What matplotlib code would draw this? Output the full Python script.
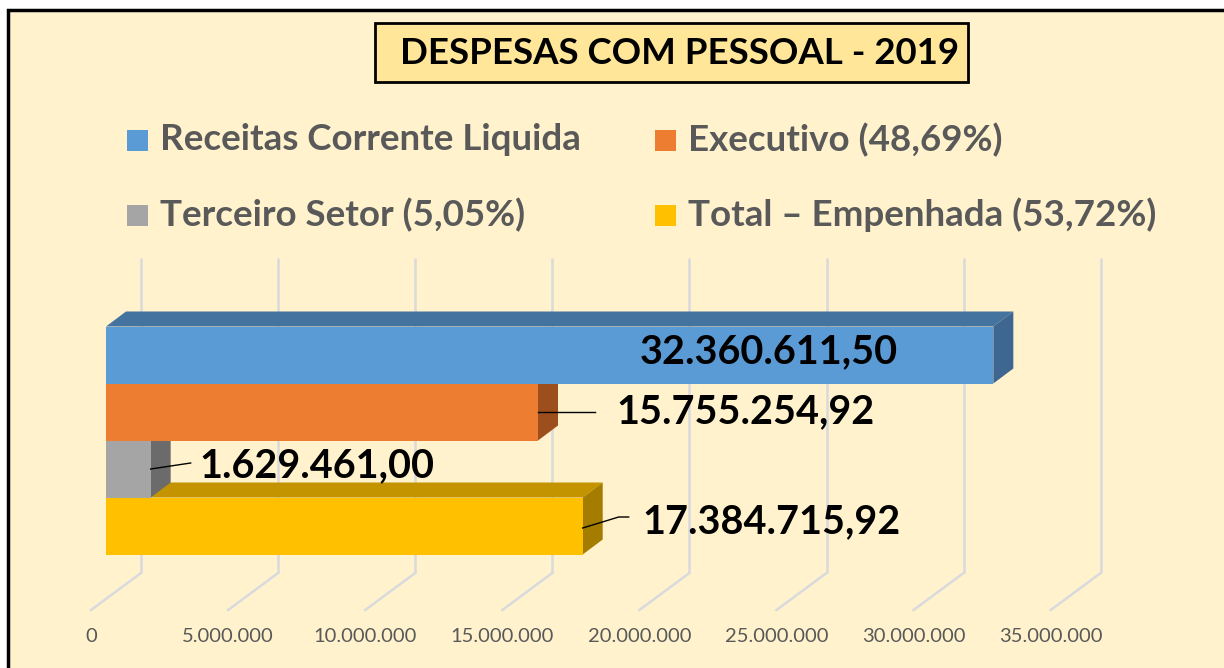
import matplotlib.pyplot as plt
from matplotlib.patches import Polygon, Rectangle

# data
labels = ['Receitas Corrente Liquida', 'Executivo (48,69%)',
          'Terceiro Setor (5,05%)', 'Total – Empenhada (53,72%)']
values = [32360611.50, 15755254.92, 1629461.00, 17384715.92]
ticks = [0, 5e6, 10e6, 15e6, 20e6, 25e6, 30e6, 35e6]
tick_labels = ['0', '5.000.000', '10.000.000', '15.000.000', '20.000.000',
               '25.000.000', '30.000.000', '35.000.000']
title = 'DESPESAS COM PESSOAL - 2019'

front = ['#5B9BD5', '#ED7D31', '#A5A5A5', '#FFC000']
top = ['#44739F', '#B25E25', '#7C7C7C', '#C49400']
side = ['#3E6690', '#9C4F1D', '#6B6B6B', '#A37C00']

def br(v):
    s = f'{v:,.2f}'
    return s.replace(',', 'X').replace('.', ',').replace('X', '.')

W, H = 1224, 668
PX = 27.42 / 1e6      # pixels per unit on the value axis
ROW = 57.0            # pixels per bar row
Y0 = 355.0            # pixel y of the first bar centre
X0 = 106.0            # pixel x of value 0 (front of bars)

def fx(x):
    return x / W

def fy(y):
    return 1 - y / H

def dx(p):
    return p / PX

def dy(p):
    return p / ROW

fig = plt.figure(figsize=(12.24, 6.68), dpi=100, facecolor='white')
fig.add_artist(Rectangle((fx(8), -0.1), 1.2, fy(10) + 0.1, transform=fig.transFigure,
                         facecolor='#FFF2CC', edgecolor='black', lw=2.5, zorder=-5))

ax = fig.add_axes([0, 0, 1, 1])
ax.set_axis_off()
ax.patch.set_alpha(0)
ax.set_xlim(-dx(X0), dx(W - X0))
ax.set_ylim(dy(H - Y0), -dy(Y0))

# back wall gridlines + floor
for t, tl in zip(ticks, tick_labels):
    xb = t + dx(35)
    xf = t - dx(15)
    ax.plot([xb, xb], [dy(258 - Y0), dy(573 - Y0)], color='#D8DADD', lw=1.8, zorder=1,
            solid_capstyle='butt')
    ax.plot([xb, xf], [dy(573 - Y0), dy(610 - Y0)], color='#D8DADD', lw=1.8, zorder=1)
    ax.text(xf, dy(637 - Y0), tl, ha='center', va='center', color='#595959',
            fontsize=14.5, family='Lato')

# 3D bars, drawn from the bottom one up
ypos = list(range(len(values)))
DX, DY = dx(20), -dy(15)
for k, i in enumerate(reversed(ypos)):
    v, y = values[i], ypos[i]
    z = 3 + k * 3
    ax.add_patch(Polygon([(0, y - 0.5), (v, y - 0.5), (v + DX, y - 0.5 + DY), (DX, y - 0.5 + DY)],
                         closed=True, facecolor=top[i], edgecolor='none', zorder=z))
    ax.add_patch(Polygon([(v, y - 0.5), (v, y + 0.5), (v + DX, y + 0.5 + DY), (v + DX, y - 0.5 + DY)],
                         closed=True, facecolor=side[i], edgecolor='none', zorder=z + 1))
    ax.barh([y], [v], height=1.0, color=front[i], edgecolor='none', zorder=z + 2)

# data labels
lab_kw = dict(fontsize=28.5, fontweight='bold', color='black', family='Lato', zorder=20)
ax.text(values[0] - dx(225), ypos[0] - dy(3), br(values[0]), ha='center', va='center', **lab_kw)

ax.plot([values[1], values[1] + dx(57)], [ypos[1], ypos[1]], color='black', lw=1, zorder=20)
ax.text(values[1] + dx(78), ypos[1], br(values[1]), ha='left', va='center', **lab_kw)

ax.plot([values[2], values[2] + dx(40)], [ypos[2], ypos[2] - dy(6)], color='black', lw=1, zorder=20)
ax.text(values[2] + dx(49), ypos[2] - dy(3), br(values[2]), ha='left', va='center', **lab_kw)

ax.plot([values[3], values[3] + dx(36), values[3] + dx(46)],
        [ypos[3] + dy(2), ypos[3] - dy(9), ypos[3] - dy(9)], color='black', lw=1, zorder=20)
ax.text(values[3] + dx(60), ypos[3] - dy(4), br(values[3]), ha='left', va='center', **lab_kw)

# title box
fig.add_artist(Rectangle((fx(375), fy(82)), fx(968) - fx(375), fy(23) - fy(82),
                         transform=fig.transFigure, facecolor='#FFE699',
                         edgecolor='black', lw=2, zorder=5))
fig.text(fx(680), fy(53), title, ha='center', va='center', fontsize=26.4,
         fontweight='bold', family='Lato', color='black', zorder=6)

# legend
leg_pos = [(127, 140), (655, 140), (127, 215), (655, 215)]
for (lx, ly), lab, c in zip(leg_pos, labels, front):
    fig.add_artist(Rectangle((fx(lx), fy(ly + 11)), fx(21), 21 / H, transform=fig.transFigure,
                             facecolor=c, edgecolor='none', zorder=5))
    fig.text(fx(lx + 33), fy(ly), lab, ha='left', va='center', fontsize=26.5,
             fontweight='bold', family='Lato', color='#595959', zorder=6)

fig.savefig('out.png', dpi=100, facecolor=fig.get_facecolor())
